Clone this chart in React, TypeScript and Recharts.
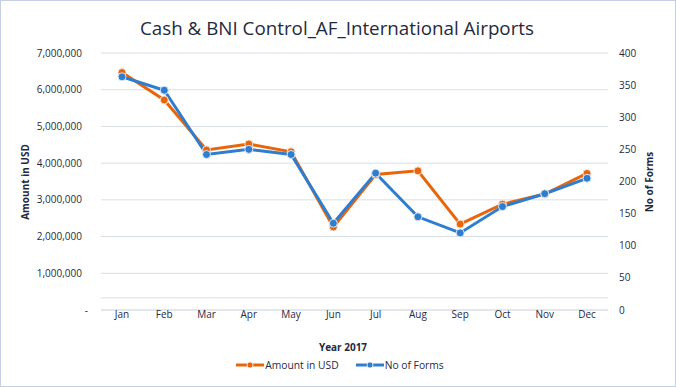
import React from 'react';
import { LineChart, Line, XAxis, YAxis, CartesianGrid, Legend, ReferenceLine } from 'recharts';

const months = ['Jan', 'Feb', 'Mar', 'Apr', 'May', 'Jun', 'Jul', 'Aug', 'Sep', 'Oct', 'Nov', 'Dec'];
const amountUsd = [6470000, 5720000, 4360000, 4520000, 4310000, 2260000, 3690000, 3790000, 2340000, 2880000, 3160000, 3720000];
const noOfForms = [363, 342, 242, 250, 242, 135, 213, 145, 120, 161, 181, 205];
const leftTicks = [0, 1000000, 2000000, 3000000, 4000000, 5000000, 6000000, 7000000];
const rightTicks = [0, 50, 100, 150, 200, 250, 300, 350, 400];

const data = months.map((m, i) => ({ month: m, amount: amountUsd[i], forms: noOfForms[i] }));

const FONT = '"Open Sans", sans-serif';
const TEXT = '#1F2A3E';
const ORANGE = '#E8650C';
const BLUE = '#2E7DCF';
const GRID = '#D9DEE6';

const LeftTick = (props: any) => {
  const { x, y, payload } = props;
  const v = payload.value as number;
  return (
    <text x={v === 0 ? x + 6 : x} y={y} dy="0.35em" textAnchor="end" fontFamily={FONT} fontSize={10} fill={TEXT}>
      {v === 0 ? '-' : v.toLocaleString('en-US')}
    </text>
  );
};

const LegendContent = () => (
  <div style={{ display: 'flex', justifyContent: 'center', alignItems: 'center', height: 20, fontFamily: FONT, fontSize: 10.3, color: TEXT, paddingLeft: 4 }}>
    {[
      { c: ORANGE, t: 'Amount in USD' },
      { c: BLUE, t: 'No of Forms' },
    ].map((it, i) => (
      <div key={i} style={{ display: 'flex', alignItems: 'center', marginRight: i === 0 ? 17 : 0 }}>
        <svg width={28} height={10} style={{ marginRight: 1 }}>
          <line x1={0} y1={5} x2={28} y2={5} stroke={it.c} strokeWidth={3} />
          <circle cx={14} cy={5} r={3} fill={it.c} stroke="#f4f4f4" strokeWidth={0.8} />
        </svg>
        <span>{it.t}</span>
      </div>
    ))}
  </div>
);

export default function App() {
  return (
    <div style={{ position: 'absolute', top: 0, left: 0, width: 676, height: 387, background: '#fff', outline: '1px solid #C5D1E3', outlineOffset: -1 }}>
      <div style={{ position: 'absolute', top: 15, left: 0, width: 674, textAlign: 'center', fontFamily: FONT, fontSize: 18.8, color: TEXT, lineHeight: '26px' }}>
        Cash &amp; BNI Control_AF_International Airports
      </div>
      <LineChart width={676} height={387} data={data} margin={{ top: 53, right: 0, bottom: 12, left: 0 }}>
        <CartesianGrid vertical={false} stroke={GRID} yAxisId="left" />
        <ReferenceLine yAxisId="left" y={330000} stroke={GRID} />
        <XAxis
          dataKey="month"
          height={45}
          padding={{ left: 21, right: 21 }}
          tickLine={false}
          tickSize={0}
          tickMargin={1}
          axisLine={{ stroke: GRID }}
          tick={{ fontFamily: FONT, fontSize: 10, fill: TEXT }}
          interval={0}
          label={() => (
            <text x={343} y={351} textAnchor="middle" fontFamily={FONT} fontSize={10} fontWeight="bold" fill={TEXT}>
              Year 2017
            </text>
          )}
        />
        <YAxis
          yAxisId="left"
          width={101}
          domain={[0, 7000000]}
          ticks={leftTicks}
          tickLine={false}
          tickSize={0}
          tickMargin={19}
          axisLine={false}
          tick={<LeftTick />}
          label={() => (
            <text x={25} y={182} textAnchor="middle" dominantBaseline="central" transform="rotate(-90, 25, 182)" fontFamily={FONT} fontSize={10} fontWeight="bold" fill={TEXT}>
              Amount in USD
            </text>
          )}
        />
        <YAxis
          yAxisId="right"
          orientation="right"
          width={68}
          domain={[0, 400]}
          ticks={rightTicks}
          tickLine={false}
          tickSize={0}
          tickMargin={11}
          axisLine={false}
          tick={{ fontFamily: FONT, fontSize: 10, fill: TEXT, textAnchor: 'start' }}
          label={() => (
            <text x={649} y={182} textAnchor="middle" dominantBaseline="central" transform="rotate(-90, 649, 182)" fontFamily={FONT} fontSize={10} fontWeight="bold" fill={TEXT}>
              No of Forms
            </text>
          )}
        />
        <Legend verticalAlign="bottom" content={<LegendContent />} />
        <Line
          yAxisId="left"
          dataKey="amount"
          name="Amount in USD"
          stroke={ORANGE}
          strokeWidth={3}
          dot={{ r: 4, fill: ORANGE, stroke: '#F5E6DA', strokeWidth: 1 }}
          isAnimationActive={false}
        />
        <Line
          yAxisId="right"
          dataKey="forms"
          name="No of Forms"
          stroke={BLUE}
          strokeWidth={3}
          dot={{ r: 4, fill: BLUE, stroke: '#DCE8F5', strokeWidth: 1 }}
          isAnimationActive={false}
        />
      </LineChart>
    </div>
  );
}
